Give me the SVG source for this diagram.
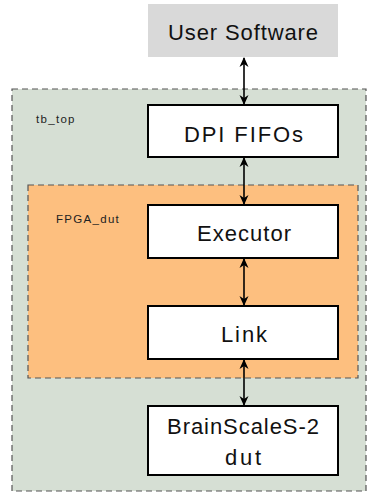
<svg xmlns="http://www.w3.org/2000/svg" width="369" height="493" viewBox="0 0 369 493">
<style>
.box{fill:#fff;stroke:#000;stroke-width:2}
.lbl{font-family:"Liberation Sans",Arial,sans-serif;font-size:22px;fill:#111;text-anchor:middle}
.sm{font-family:"Liberation Sans",Arial,sans-serif;font-size:11.5px;fill:#222;letter-spacing:1.3px}
.cont{stroke:#555;stroke-width:1.2;stroke-dasharray:6,4}
.conn{stroke:#000;stroke-width:1.6;fill:none;marker-start:url(#ah);marker-end:url(#ah)}
</style>
<defs>
<marker id="ah" viewBox="0 0 10 10" refX="9" refY="5" markerWidth="10" markerHeight="10" markerUnits="userSpaceOnUse" orient="auto-start-reverse">
<path d="M0,0.5 L10,5 L0,9.5 L3,5 Z" fill="#000"/>
</marker>
</defs>
<g id="tb_top">
<rect x="12" y="89" width="354" height="402" fill="#d6dfd4" class="cont"/>
<text class="sm" x="36" y="123">tb_top</text>
</g>
<g id="fpga_dut">
<rect x="28" y="185" width="330" height="193" fill="#fdbf7f" class="cont"/>
<text class="sm" x="56" y="223">FPGA_dut</text>
</g>
<g id="user_software">
<rect x="148" y="4" width="190" height="53" fill="#d9d9d9"/>
<text class="lbl" x="243" y="40" textLength="150" lengthAdjust="spacing">User Software</text>
</g>
<g id="dpi_fifos">
<rect class="box" x="148" y="105" width="190" height="52"/>
<text class="lbl" x="243.5" y="141.5" textLength="119" lengthAdjust="spacing">DPI FIFOs</text>
</g>
<g id="executor">
<rect class="box" x="148" y="205" width="190" height="53"/>
<text class="lbl" x="244" y="240.5" textLength="94" lengthAdjust="spacing">Executor</text>
</g>
<g id="link">
<rect class="box" x="148" y="306" width="190" height="53"/>
<text class="lbl" x="244" y="341.5" textLength="46" lengthAdjust="spacing">Link</text>
</g>
<g id="bss2">
<rect class="box" x="148" y="406" width="190" height="69"/>
<text class="lbl" x="243" y="434" textLength="152" lengthAdjust="spacing">BrainScaleS-2</text>
<text class="lbl" x="243" y="465" textLength="36" lengthAdjust="spacing">dut</text>
</g>
<g id="connectors">
<line class="conn" x1="244" y1="58" x2="244" y2="104"/>
<line class="conn" x1="244" y1="158" x2="244" y2="204"/>
<line class="conn" x1="244" y1="259" x2="244" y2="305"/>
<line class="conn" x1="244" y1="360" x2="244" y2="405"/>
</g>
</svg>
